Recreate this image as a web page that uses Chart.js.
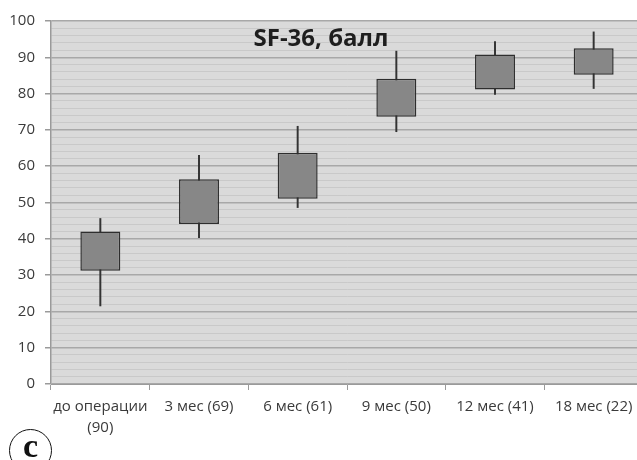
<!DOCTYPE html>
<html>
<head>
<meta charset="utf-8">
<script src="https://cdn.jsdelivr.net/npm/chart.js@4.4.0/dist/chart.umd.min.js"></script>
<style>
html,body{margin:0;padding:0;background:#fff;overflow:hidden;width:637px;height:460px;}
#wrap{position:absolute;left:0;top:0;width:643px;height:460px;}
#badge{position:absolute;left:9px;top:429px;width:43px;height:43px;border:1.3px solid #111;border-radius:50%;box-sizing:border-box;
font-family:"Liberation Serif","DejaVu Serif",serif;font-weight:bold;font-size:34px;color:#111;text-align:center;line-height:32px;}
</style>
</head>
<body>
<div id="wrap"><canvas id="c"></canvas></div>
<div id="badge">c</div>
<script>
const categories = [['до операции','(90)'], '3 мес (69)', '6 мес (61)', '9 мес (50)', '12 мес (41)', '18 мес (22)'];
const whiskerLow  = [21.5, 40.3, 48.6, 69.5, 79.8, 81.4];
const boxLow      = [31.2, 44.1, 51.0, 73.6, 81.1, 85.2];
const boxHigh     = [42.0, 56.4, 63.7, 84.1, 90.8, 92.5];
const whiskerHigh = [45.6, 63.0, 71.0, 91.7, 94.3, 97.0];
const yTickLabels = [0, 10, 20, 30, 40, 50, 60, 70, 80, 90, 100];
const chartTitle = 'SF-36, балл';

const bgPlugin = {
  id: 'bg',
  beforeDraw(chart) {
    const {ctx, chartArea: a} = chart;
    ctx.save();
    ctx.fillStyle = '#dadada';
    ctx.fillRect(a.left, a.top, a.right - a.left, a.bottom - a.top);
    ctx.restore();
  },
  afterDraw(chart) {
    const {ctx} = chart;
    ctx.save();
    ctx.font = 'bold 24px "Open Sans"';
    ctx.fillStyle = '#1e1e1e';
    ctx.textAlign = 'center';
    ctx.textBaseline = 'middle';
    ctx.fillText(chartTitle, 321, 39);
    ctx.restore();
  }
};

new Chart(document.getElementById('c'), {
  type: 'bar',
  data: {
    labels: categories,
    datasets: [
      {
        label: 'box',
        data: boxLow.map((v, i) => [v, boxHigh[i]]),
        backgroundColor: '#878787',
        borderColor: '#2e2e2e',
        borderWidth: 1.5,
        borderSkipped: false,
        grouped: false,
        categoryPercentage: 1,
        barPercentage: 0.405
      },
      {
        label: 'whisker',
        data: whiskerLow.map((v, i) => [v, whiskerHigh[i]]),
        backgroundColor: '#333333',
        borderWidth: 0,
        grouped: false,
        barThickness: 1.3
      }
    ]
  },
  options: {
    responsive: true,
    maintainAspectRatio: false,
    animation: false,
    layout: {padding: {top: 21, right: 0, left: 0, bottom: 0}},
    plugins: {legend: {display: false}, tooltip: {enabled: false}},
    scales: {
      x: {
        offset: true,
        grid: {offset: true, drawOnChartArea: false, drawTicks: true, tickLength: 6, color: '#9a9a9a'},
        border: {color: '#9a9a9a', width: 1},
        ticks: {color: '#3a3a3a', font: {family: '"Open Sans"', size: 15, lineHeight: 1.4}, padding: 6, maxRotation: 0, autoSkip: false},
        afterFit(s) { s.height = 76; }
      },
      y: {
        min: 0, max: 100,
        afterBuildTicks(s) {
          const t = [];
          for (let v = 0; v <= 100; v += 2) t.push({value: v});
          s.ticks = t;
        },
        grid: {
          color: (c) => (c.tick && c.tick.value % 10 === 0) ? '#a8a8a8' : '#c9c9c9',
          lineWidth: (c) => (c.tick && c.tick.value % 10 === 0) ? 1.5 : 1,
          tickColor: (c) => (c.tick && c.tick.value % 10 === 0) ? '#9a9a9a' : 'rgba(0,0,0,0)',
          tickLength: 6
        },
        border: {color: '#9a9a9a', width: 1.5},
        ticks: {
          autoSkip: false,
          color: '#3a3a3a',
          font: {family: '"Open Sans"', size: 15},
          padding: 10,
          callback: (v) => yTickLabels.includes(v) ? String(v) : ''
        },
        afterFit(s) { s.width = 51; }
      }
    }
  },
  plugins: [bgPlugin]
});
</script>
</body>
</html>
